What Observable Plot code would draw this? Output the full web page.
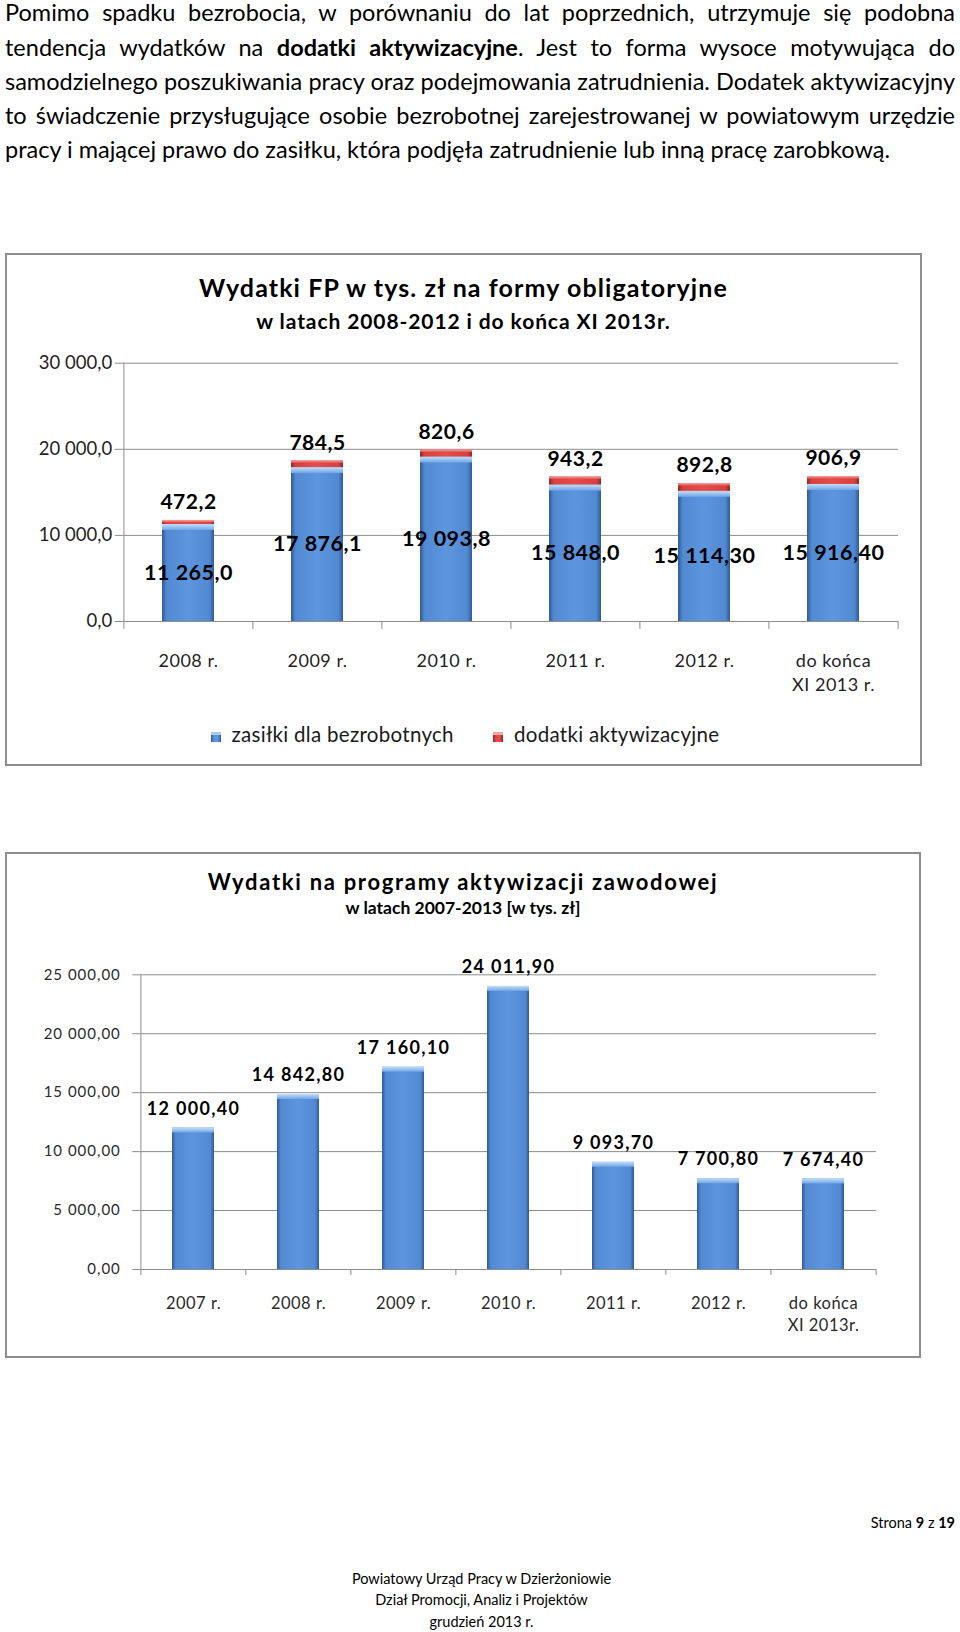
<!DOCTYPE html>
<html><head><meta charset="utf-8">
<script src="https://cdn.jsdelivr.net/npm/d3@7"></script>
<script src="https://cdn.jsdelivr.net/npm/@observablehq/plot@0.6"></script>
<style>
body{margin:0;background:#fff;width:960px;height:1632px;position:relative;font-family:Lato,sans-serif;color:#000;overflow:hidden}
.abs{position:absolute}
.para{left:5px;width:950px;top:-4.6px;font-size:23.5px;line-height:34.15px}
.para .j{text-align:justify;text-align-last:justify}
.frame{position:absolute;border:2px solid #8e8e8e;box-sizing:border-box}
.ttl{position:absolute;text-align:center;font-weight:bold;white-space:nowrap}
.c1 g[aria-label="x-axis tick label"] text{letter-spacing:0.5px}
.c1 .lbl text{letter-spacing:0.5px}
.c2 text{letter-spacing:1.3px}
.c2 g[aria-label="y-axis tick label"] text{letter-spacing:1px}
.c2 g[aria-label="x-axis tick label"] text{letter-spacing:0.5px}
.sw{position:absolute;width:10px;height:10px;box-sizing:border-box}
.lg{position:absolute;font-size:20.5px;line-height:20.5px;letter-spacing:0.3px;white-space:nowrap;color:#1a1a1a}
</style></head>
<body>
<svg width="0" height="0" style="position:absolute">
<defs>
<linearGradient id="gBlue" x1="0" x2="1" y1="0" y2="0">
<stop offset="0" stop-color="#2f5a94"/><stop offset="0.09" stop-color="#5189d2"/><stop offset="0.5" stop-color="#5d96df"/><stop offset="0.91" stop-color="#5189d2"/><stop offset="1" stop-color="#2f5a94"/>
</linearGradient>
<linearGradient id="gRed" x1="0" x2="1" y1="0" y2="0">
<stop offset="0" stop-color="#8f2624"/><stop offset="0.09" stop-color="#d8413f"/><stop offset="0.5" stop-color="#e44b49"/><stop offset="0.91" stop-color="#d8413f"/><stop offset="1" stop-color="#8f2624"/>
</linearGradient>
<linearGradient id="gHiBlue" x1="0" x2="0" y1="0" y2="1">
<stop offset="0" stop-color="#c4def9"/><stop offset="1" stop-color="#6fa5e6"/>
</linearGradient>
<linearGradient id="gHiRed" x1="0" x2="0" y1="0" y2="1">
<stop offset="0" stop-color="#f6a7a4"/><stop offset="1" stop-color="#e0504e"/>
</linearGradient>
</defs>
</svg>

<div class="abs para">
<div class="j">Pomimo spadku bezrobocia, w porównaniu do lat poprzednich, utrzymuje się podobna</div>
<div class="j">tendencja wydatków na <b>dodatki aktywizacyjne</b>. Jest to forma wysoce motywująca do</div>
<div class="j">samodzielnego poszukiwania pracy oraz podejmowania zatrudnienia. Dodatek aktywizacyjny</div>
<div class="j">to świadczenie przysługujące osobie bezrobotnej zarejestrowanej w powiatowym urzędzie</div>
<div>pracy i mającej prawo do zasiłku, która podjęła zatrudnienie lub inną pracę zarobkową.</div>
</div>

<div class="frame" style="left:5px;top:253px;width:917px;height:513px"></div>
<div class="ttl" style="left:5px;width:917px;top:274.5px;font-size:25px;line-height:25px;letter-spacing:1.1px">Wydatki FP w tys. zł na formy obligatoryjne</div>
<div class="ttl" style="left:5px;width:917px;top:309.7px;font-size:21px;line-height:21px;letter-spacing:0.9px">w latach 2008-2012 i do końca XI 2013r.</div>
<div id="c1" class="abs c1" style="left:0;top:338px"></div>
<div class="sw" style="left:211px;top:732px;background:linear-gradient(90deg,#2f5a94,#5d96df 30%,#5d96df 70%,#2f5a94);border-top:3px solid #a9cdf5"></div>
<div class="lg" style="left:231.5px;top:723.8px">zasiłki dla bezrobotnych</div>
<div class="sw" style="left:493px;top:732px;background:linear-gradient(90deg,#8f2624,#e44b49 30%,#e44b49 70%,#8f2624);border-top:3px solid #f6a7a4"></div>
<div class="lg" style="left:514px;top:723.8px">dodatki aktywizacyjne</div>

<div class="frame" style="left:5px;top:852px;width:916px;height:506px"></div>
<div class="ttl" style="left:5px;width:916px;top:870.5px;font-size:22px;line-height:22px;letter-spacing:1.7px">Wydatki na programy aktywizacji zawodowej</div>
<div class="ttl" style="left:5px;width:916px;top:898.5px;font-size:17.5px;line-height:17.5px">w latach 2007-2013 [w tys. zł]</div>
<div id="c2" class="abs c2" style="left:0;top:950px"></div>

<div class="abs" style="right:5px;top:1516.4px;font-size:14.5px;line-height:14.5px">Strona <b>9</b> z <b>19</b></div>
<div class="abs" style="left:0;width:963px;top:1567.6px;font-size:14.5px;line-height:21.8px;text-align:center">Powiatowy Urząd Pracy w Dzierżoniowie<br>Dział Promocji, Analiz i Projektów<br>grudzień 2013 r.</div>

<script>
// ---- data: chart 1 ----
const lata1 = ["2008 r.", "2009 r.", "2010 r.", "2011 r.", "2012 r.", "do końca\nXI 2013 r."];
const zasilki = [11265.0, 17876.1, 19093.8, 15848.0, 15114.30, 15916.40];
const dodatki = [472.2, 784.5, 820.6, 943.2, 892.8, 906.9];
const zasilkiEtykiety = ["11 265,0", "17 876,1", "19 093,8", "15 848,0", "15 114,30", "15 916,40"];
const osY1 = [0, 10000, 20000, 30000];

// ---- data: chart 2 ----
const lata2 = ["2007 r.", "2008 r.", "2009 r.", "2010 r.", "2011 r.", "2012 r.", "do końca\nXI 2013r."];
const programy = [12000.40, 14842.80, 17160.10, 24011.90, 9093.70, 7700.80, 7674.40];
const osY2 = [0, 5000, 10000, 15000, 20000, 25000];

const pl = d3.formatLocale({decimal: ",", thousands: "\u00a0", grouping: [3], currency: ["", " zł"]});
const f1 = pl.format(",.1f");
const f2 = pl.format(",.2f");

const t1 = lata1.map((rok, i) => ({rok, z: zasilki[i], d: dodatki[i], top: zasilki[i] + dodatki[i], zl: zasilkiEtykiety[i]}));
const t2 = lata2.map((rok, i) => ({rok, v: programy[i]}));

const grid = "#8c8c8c";

// chart 1
{
  const W = 960, mL = 122.7, mR = 62, mT = 24.7, mB = 80, H = 363;
  const step = (W - mL - mR) / lata1.length;
  const p = Plot.plot({
    width: W, height: H, marginLeft: mL, marginRight: mR, marginTop: mT, marginBottom: mB,
    style: {fontFamily: "Lato, sans-serif", color: "#1f1f1f", background: "transparent", overflow: "visible"},
    x: {domain: lata1, paddingInner: 0.6, paddingOuter: 0.3, label: null},
    y: {domain: [0, 30000], label: null},
    marks: [
      Plot.gridY(osY1, {stroke: grid, strokeOpacity: 1}),
      Plot.axisY(osY1, {tickFormat: f1, tickSize: 8, tickPadding: 3, fontSize: 18.5, stroke: grid, label: null}),
      Plot.ruleX([lata1[0]], {y1: 0, y2: 30000, dx: -step / 2, stroke: grid}),
      Plot.axisX(lata1, {tickSize: 8, tickFormat: () => "", dx: -step / 2, stroke: grid, label: null}),
      Plot.axisX([lata1[lata1.length - 1]], {tickSize: 8, tickFormat: () => "", dx: step / 2, stroke: grid, label: null}),
      Plot.axisX(lata1, {tickSize: 0, tickPadding: 28, fontSize: 18, lineHeight: 1.35, label: null}),
      Plot.barY(t1, {x: "rok", y1: 0, y2: "z", fill: "url(#gBlue)"}),
      Plot.barY(t1, {x: "rok", y1: "z", y2: "z", insetBottom: -6, fill: "url(#gHiBlue)"}),
      Plot.barY(t1, {x: "rok", y1: "z", y2: "top", fill: "url(#gRed)"}),
      Plot.barY(t1, {x: "rok", y1: "top", y2: "top", insetBottom: -2.5, fill: "url(#gHiRed)"}),
      Plot.ruleY([0], {stroke: grid}),
      Plot.text(t1, {x: "rok", y: "top", text: d => f1(d.d), dy: -18, fontWeight: "bold", fontSize: 21, fill: "#000", className: "lbl"}),
      Plot.text(t1, {x: "rok", y: d => d.z / 2, text: "zl", fontWeight: "bold", fontSize: 21.5, fill: "#000", className: "lbl"})
    ]
  });
  document.getElementById("c1").append(p);
}

// chart 2
{
  const W = 960, mL = 139.3, mR = 84, mT = 24.3, mB = 71, H = 390;
  const step = (W - mL - mR) / lata2.length;
  const p = Plot.plot({
    width: W, height: H, marginLeft: mL, marginRight: mR, marginTop: mT, marginBottom: mB,
    style: {fontFamily: "Lato, sans-serif", color: "#2a2a2a", background: "transparent", overflow: "visible"},
    x: {domain: lata2, paddingInner: 0.6, paddingOuter: 0.3, label: null},
    y: {domain: [0, 25000], label: null},
    marks: [
      Plot.gridY(osY2, {stroke: grid, strokeOpacity: 1}),
      Plot.axisY(osY2, {tickFormat: f2, tickSize: 7, tickPadding: 12, fontSize: 15, stroke: grid, label: null}),
      Plot.ruleX([lata2[0]], {y1: 0, y2: 25000, dx: -step / 2, stroke: grid}),
      Plot.axisX(lata2, {tickSize: 6, tickFormat: () => "", dx: -step / 2, stroke: grid, label: null}),
      Plot.axisX([lata2[lata2.length - 1]], {tickSize: 6, tickFormat: () => "", dx: step / 2, stroke: grid, label: null}),
      Plot.axisX(lata2, {tickSize: 0, tickPadding: 24.5, fontSize: 16.5, lineHeight: 1.3, label: null}),
      Plot.barY(t2, {x: "rok", y1: 0, y2: "v", fill: "url(#gBlue)"}),
      Plot.barY(t2, {x: "rok", y1: "v", y2: "v", insetBottom: -5, fill: "url(#gHiBlue)"}),
      Plot.ruleY([0], {stroke: grid}),
      Plot.text(t2, {x: "rok", y: "v", text: d => f2(d.v), dy: -19, fontWeight: "bold", fontSize: 18, fill: "#000"})
    ]
  });
  document.getElementById("c2").append(p);
}
</script>
</body></html>
